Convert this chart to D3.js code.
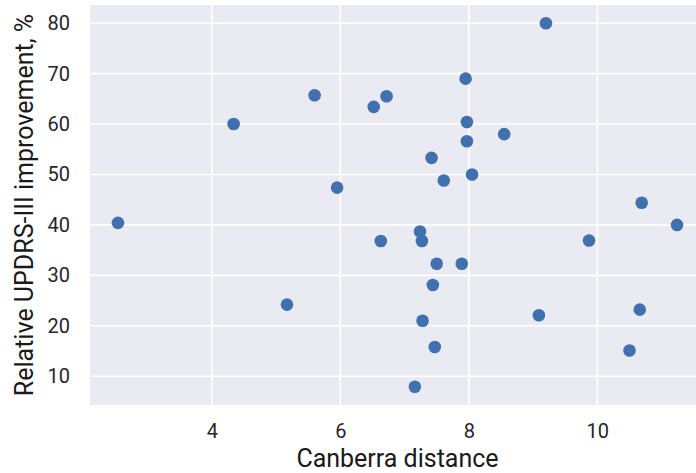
<!DOCTYPE html>
<html>
<head>
<meta charset="utf-8">
<script src="https://cdn.jsdelivr.net/npm/d3@7"></script>
<style>
  body { margin: 0; background: #fff; }
  svg { display: block; font-family: Roboto, sans-serif; }
</style>
</head>
<body>
<div id="chart"></div>
<script>
// Canberra distance vs relative UPDRS-III improvement
var distance = [2.54, 4.34, 5.17, 5.60, 5.95, 6.52, 6.63, 6.72, 7.16, 7.24,
                7.27, 7.28, 7.42, 7.44, 7.47, 7.50, 7.61, 7.89, 7.95, 7.97,
                7.97, 8.05, 8.55, 9.20, 9.09, 9.87, 10.69, 10.66, 10.50, 11.24];
var improvement = [40.4, 60.0, 24.2, 65.7, 47.4, 63.4, 36.8, 65.5, 7.9, 38.7,
                   36.8, 21.0, 53.3, 28.1, 15.8, 32.3, 48.8, 32.3, 69.0, 60.4,
                   56.6, 50.0, 58.0, 80.0, 22.1, 36.9, 44.4, 23.2, 15.1, 40.0];
var xTicks = [4, 6, 8, 10];
var yTicks = [10, 20, 30, 40, 50, 60, 70, 80];

var points = distance.map(function(d, i) { return {x: d, y: improvement[i]}; });

var W = 696, H = 473;
var margin = {top: 5, right: -9, bottom: 68, left: 90};
var width = W - margin.left - margin.right,
    height = H - margin.top - margin.bottom;

var svg = d3.select("#chart").append("svg")
    .attr("width", W)
    .attr("height", H);

var g = svg.append("g")
    .attr("transform", "translate(" + margin.left + "," + margin.top + ")");

// matplotlib-like 5% padding
function padded(ext) {
    var p = (ext[1] - ext[0]) * 0.05;
    return [ext[0] - p, ext[1] + p];
}

var x = d3.scaleLinear().domain(padded(d3.extent(distance))).range([0, width]);
var y = d3.scaleLinear().domain(padded(d3.extent(improvement))).range([height, 0]);

g.append("rect")
    .attr("width", width)
    .attr("height", height)
    .attr("fill", "#eaeaf2");

// grid
g.selectAll(".gx").data(xTicks).enter().append("line")
    .attr("x1", d => x(d)).attr("x2", d => x(d))
    .attr("y1", 0).attr("y2", height)
    .attr("stroke", "#fff").attr("stroke-width", 1.6);

g.selectAll(".gy").data(yTicks).enter().append("line")
    .attr("x1", 0).attr("x2", width)
    .attr("y1", d => y(d)).attr("y2", d => y(d))
    .attr("stroke", "#fff").attr("stroke-width", 1.6);

// axes (no tick lines, just labels)
var xAxis = g.append("g")
    .attr("transform", "translate(0," + height + ")")
    .call(d3.axisBottom(x).tickValues(xTicks).tickSize(0).tickPadding(19));
var yAxis = g.append("g")
    .call(d3.axisLeft(y).tickValues(yTicks).tickSize(0).tickPadding(20));

[xAxis, yAxis].forEach(function(a) {
    a.select(".domain").remove();
    a.selectAll("text")
        .style("font-family", "Roboto, sans-serif")
        .style("font-size", "20px")
        .attr("fill", "#262626");
});

g.selectAll("circle")
    .data(points)
    .enter().append("circle")
    .attr("cx", d => x(d.x))
    .attr("cy", d => y(d.y))
    .attr("r", 6.3)
    .attr("fill", "#4070ad");

svg.append("text")
    .attr("x", margin.left + width / 2)
    .attr("y", 467)
    .attr("text-anchor", "middle")
    .style("font-size", "25px")
    .attr("fill", "#1a1a1a")
    .text("Canberra distance");

svg.append("text")
    .attr("transform", "translate(33," + (margin.top + height / 2) + ") rotate(-90)")
    .attr("text-anchor", "middle")
    .style("font-size", "25px")
    .attr("fill", "#1a1a1a")
    .text("Relative UPDRS-III improvement, %");
</script>
</body>
</html>
